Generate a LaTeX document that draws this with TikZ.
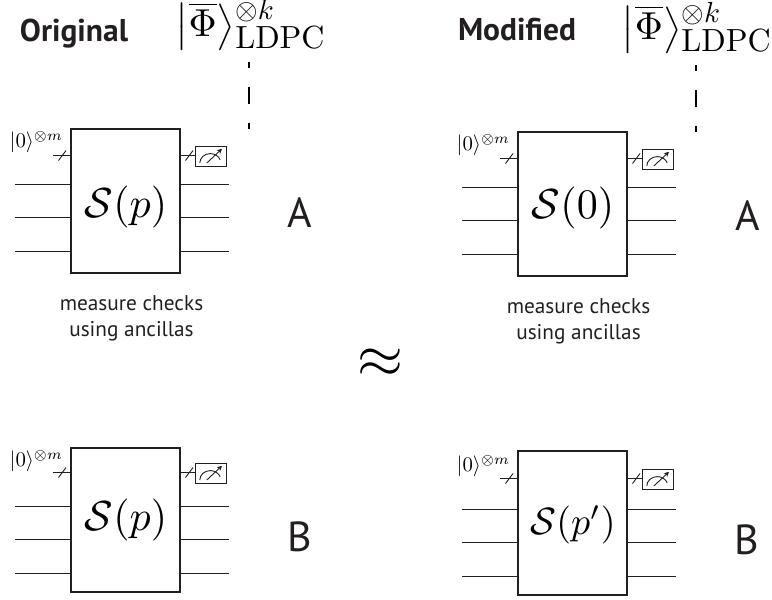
\documentclass[tikz,border=0pt]{standalone}
\usepackage[no-math]{fontspec}
\usepackage{amsmath,graphicx}
\usetikzlibrary{arrows.meta}
\newfontfamily\labelfont{PT Sans}
\definecolor{ink}{HTML}{231F20}
\tikzset{
  qbox/.style={draw=ink,line width=1.3pt,minimum width=109pt,minimum height=144pt,inner sep=0pt,text=black},
  qwire/.style={draw=ink,line width=1.5pt},
  thinw/.style={draw=ink,line width=0.9pt},
  meterbox/.style={draw=ink,line width=1pt,minimum width=31pt,minimum height=19.5pt,inner sep=0pt},
  title/.style={font=\labelfont\bfseries\fontsize{31.5}{34}\selectfont,inner sep=0pt,text=ink,anchor=base},
  letter/.style={font=\labelfont\fontsize{42}{44}\selectfont,inner sep=0pt,text=ink},
  caption/.style={font=\labelfont\fontsize{21.3}{26}\selectfont,align=center,inner sep=0pt,text=ink},
  ket/.style={inner sep=0pt,anchor=west},
  zero/.style={inner sep=0pt,anchor=east},
  formula/.style={inner sep=0pt},
  guide/.style={draw=black,line width=1.2pt,dash pattern=on 17pt off 19pt,dash phase=11pt}
}
\newcommand{\ketlabel}{\scalebox{3.9}{$\left|\overline{\Phi}\right\rangle$}\raisebox{-11.5pt}{\makebox[0pt][l]{\raisebox{28.5pt}{\scalebox{2.9}{$\otimes k$}}}\scalebox{3.2}{$\mathrm{LDPC}$}}}
% id, box left, box top, slash wire y, first wire y, zero label y, formula, formula y shift
\newcommand{\qcircuit}[8]{%
  \node[qbox] (#1box) at (#2+54.5,#3+72) {};
  \node[formula] (#1f) at (#2+55,#3+72+#8) {#7};
  \node[zero] (#1zero) at (#2-8,#6) {\scalebox{2.08}{$|0\rangle^{\otimes m}$}};
  \coordinate (#1sl) at (#2-18,#4);
  \coordinate (#1sr) at (#2,#4);
  \draw[qwire] (#1sl) -- (#1sr);
  \draw[thinw] (#2-12.5,#4+5) -- (#2-5,#4-5);
  \foreach \k/\o in {0/0,1/33,2/67}{
    \coordinate (#1l\k) at (#2-56,#5+\o);
    \coordinate (#1r\k) at (#2+158,#5+\o);
    \coordinate (#1a\k) at (#2,#5+\o);
    \coordinate (#1b\k) at (#2+109,#5+\o);
    \draw[qwire] (#1l\k) -- (#1a\k);
    \draw[qwire] (#1b\k) -- (#1r\k);
  }
  \node[meterbox] (#1m) at (#2+139.5,#4+0.8) {};
  \coordinate (#1mo) at (#2+109,#4);
  \draw[qwire] (#1mo) -- (#1m.west |- #1mo);
  \draw[thinw] (#2+114.5,#4+5) -- (#2+122,#4-5);
  \draw[thinw] ([xshift=-10.7pt,yshift=-6.7pt]#1m.center) arc[start angle=180,end angle=20,x radius=10.5pt,y radius=9.4pt];
  \draw[thinw,-{Stealth[length=5pt,width=5pt]}] ([xshift=-3.7pt,yshift=-6.7pt]#1m.center) -- ([xshift=11.5pt,yshift=7.5pt]#1m.center);
}
\newcommand{\bigS}[1]{\scalebox{4.2}{$\mathcal{S}(#1)$}}
\begin{document}
\begin{tikzpicture}[x=1pt,y=-1pt]
\useasboundingbox (0,0) rectangle (772,600);
\node[title] (t1) at (74,41) {Original};
\node[title] (t2) at (517,40) {Modified};
\node[ket] (k1) at (175.5,25) {\ketlabel};
\node[ket] (k2) at (621.7,28) {\ketlabel};
\coordinate (g1a) at (249,62); \coordinate (g1b) at (249,129);
\coordinate (g2a) at (696,65); \coordinate (g2b) at (696,132);
\draw[guide] (g1a) -- (g1b);
\draw[guide] (g2a) -- (g2b);
\qcircuit{a}{71}{129}{155.5}{184.5}{142}{\bigS{p}}{5.5}
\qcircuit{b}{518}{132}{158.5}{187.5}{145}{\bigS{0}}{4}
\qcircuit{c}{71}{448}{472.5}{506.5}{461}{\bigS{p}}{0}
\qcircuit{d}{518}{451}{478.5}{509.5}{466}{\scalebox{3.8}{$\mathcal{S}(p')$}}{2}
\node[letter] (la) at (299.6,212.5) {A};
\node[letter] (lb) at (747.5,216) {A};
\node[letter] (lc) at (300,537) {B};
\node[letter] (ld) at (747,540) {B};
\node[caption] (c1) at (131.5,318) {measure checks\\using ancillas};
\node[caption] (c2) at (578.5,321.5) {measure checks\\using ancillas};
\node[inner sep=0pt] (ap) at (380.5,363.5) {\scalebox{5.9}{$\approx$}};
\end{tikzpicture}
\end{document}
